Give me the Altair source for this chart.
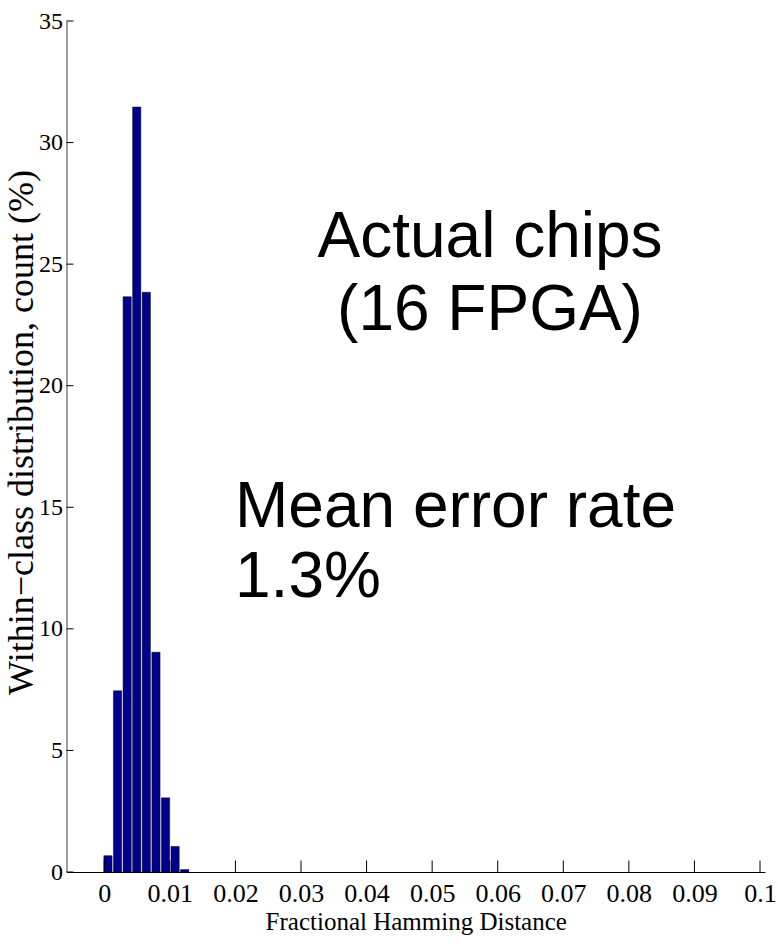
import altair as alt
import pandas as pd

# Within-class fractional Hamming distance histogram (bin centres and % counts)
fhd_centers = [0.00056, 0.00202, 0.00349, 0.00495, 0.00641, 0.00788, 0.00934, 0.01080, 0.01226]
count_pct = [0.67, 7.45, 23.66, 31.46, 23.84, 9.04, 3.05, 1.05, 0.10]

x_ticks = [0, 0.01, 0.02, 0.03, 0.04, 0.05, 0.06, 0.07, 0.08, 0.09, 0.1]
y_ticks = [0, 5, 10, 15, 20, 25, 30, 35]

label_chips = ["Actual chips", "(16 FPGA)"]
label_error = ["Mean error rate", "1.3%"]

W, H = 698.5, 851
SERIF = "Liberation Serif"
SANS = "Liberation Sans"

hist = pd.DataFrame({"fhd": fhd_centers, "pct": count_pct})
xt = pd.DataFrame({"fhd": x_ticks})
yt = pd.DataFrame({"pct": y_ticks})

x_axis = alt.Axis(
    values=x_ticks, format=".2~f", ticks=False, tickSize=0, grid=False,
    domainColor="#000000", domainWidth=1.2,
    labelFont=SERIF, labelFontSize=26, labelColor="#000000", labelPadding=8,
    labelFlush=False, labelOverlap=False,
    title="Fractional Hamming Distance", titleFont=SERIF, titleFontSize=25,
    titleFontWeight="normal", titleColor="#000000",
    titleBaseline="top", titleY=37,
)
y_axis = alt.Axis(
    values=y_ticks, ticks=False, tickSize=0, grid=False,
    domainColor="#808080", domainWidth=1.5,
    labelFont=SERIF, labelFontSize=24, labelColor="#000000", labelPadding=4,
    labelFlush=False, labelOverlap=False,
    title="Within\u2212class distribution, count (%)", titleFont=SERIF,
    titleFontSize=36, titleFontWeight="normal", titleColor="#000000",
    titleAngle=270, titleAlign="center", titleBaseline="alphabetic",
    titleX=-34, titleY=411,
)

x_scale = alt.Scale(domain=[-0.005, 0.1], nice=False, zero=False)
y_scale = alt.Scale(domain=[0, 35], nice=False, zero=True)

def xenc():
    return alt.X("fhd:Q", scale=x_scale, axis=x_axis)

def yenc():
    return alt.Y("pct:Q", scale=y_scale, axis=y_axis)

bars = alt.Chart(hist).mark_bar(
    size=8.2, color="#00008F", stroke="#000000", strokeWidth=0.5
).encode(x=xenc(), y=yenc())

# inward-pointing tick marks
x_tick_marks = alt.Chart(xt).mark_rule(color="#000000", strokeWidth=1).encode(
    x=xenc(), y=alt.value(H), y2=alt.value(H - 11.5)
)
y_tick_marks = alt.Chart(yt).mark_rule(color="#000000", strokeWidth=1).encode(
    y=yenc(), x=alt.value(0), x2=alt.value(7)
)

one = pd.DataFrame({"k": [0]})
chips_text = alt.Chart(one).mark_text(
    text=label_chips, font=SANS, fontSize=64, align="center",
    baseline="alphabetic", lineHeight=73, color="#000000"
).encode(x=alt.value(423.5), y=alt.value(236))

error_text = alt.Chart(one).mark_text(
    text=label_error, font=SANS, fontSize=64, align="left",
    baseline="alphabetic", lineHeight=70, color="#000000"
).encode(x=alt.value(168.5), y=alt.value(506))

chart = alt.layer(bars, x_tick_marks, y_tick_marks, chips_text, error_text).properties(
    width=W, height=H,
    autosize=alt.AutoSizeParams(type="none"),
    padding={"left": 66.5, "top": 21, "right": 13, "bottom": 75},
    background="#ffffff",
).configure_view(stroke=None)

chart.save("out.html", embed_options={"renderer": "svg", "actions": False})
